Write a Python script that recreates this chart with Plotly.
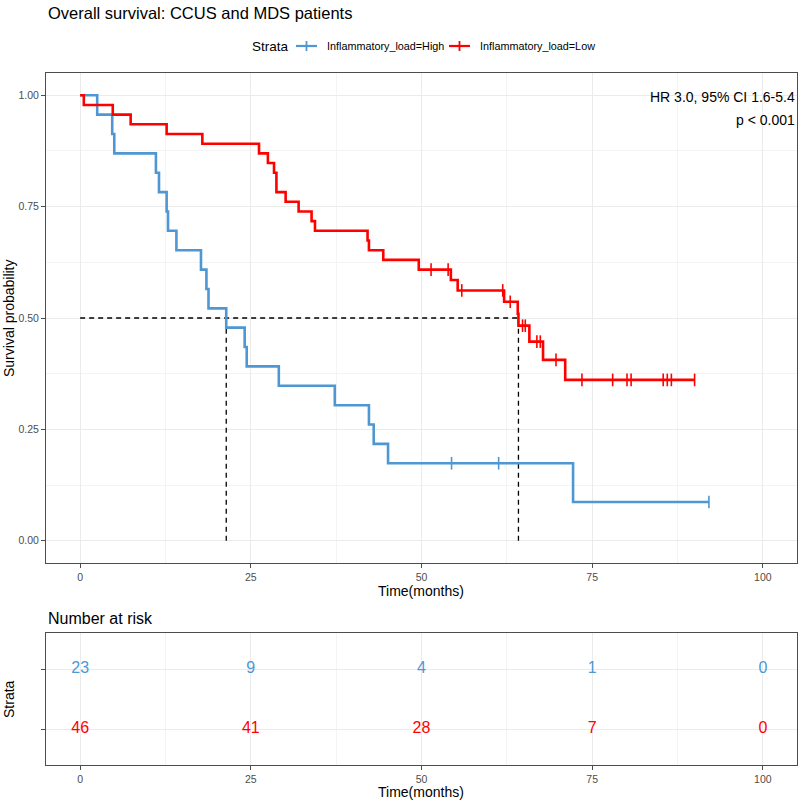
import numpy as np
import plotly.graph_objects as go

# ---------------- data ----------------
high_event_times = [2.5, 4.7, 5.0, 11.1, 11.55, 12.67, 12.87, 14.1, 17.7, 18.5, 18.8,
                    21.4, 24.1, 24.4, 29.1, 37.3, 42.3, 43.0, 45.1, 72.2]
high_surv = [0.9565, 0.9130, 0.8696, 0.8261, 0.7826, 0.7391, 0.6957, 0.6522, 0.6087,
             0.5652, 0.5217, 0.4783, 0.4348, 0.3913, 0.3478, 0.3043, 0.2609, 0.2174,
             0.1739, 0.0870]
high_censor = [54.4, 61.3, 92.1]

low_event_times = [0.54, 4.78, 7.4, 12.67, 17.9, 26.2, 27.5, 28.4, 28.75, 30.1, 32.0,
                   33.9, 34.4, 42.1, 42.3, 44.4, 49.6, 54.3, 55.3, 62.1, 64.1, 64.2,
                   65.8, 67.8, 71.05]
low_surv = [0.9783, 0.9565, 0.9348, 0.9130, 0.8913, 0.8696, 0.8478, 0.8261, 0.7826,
            0.7609, 0.7391, 0.7174, 0.6957, 0.6739, 0.6522, 0.6304, 0.6087, 0.5853,
            0.5619, 0.5364, 0.5096, 0.4828, 0.4470, 0.4060, 0.3610]
low_censor = [51.4, 53.9, 55.9, 61.9, 63.0, 64.8, 65.2, 66.9, 67.4, 69.7, 73.5,
              78.0, 80.1, 80.7, 85.4, 86.0, 86.6, 90.0]

strata_names = ["Inflammatory_load=High", "Inflammatory_load=Low"]
risk_times = [0, 25, 50, 75, 100]
risk_high = [23, 9, 4, 1, 0]
risk_low = [46, 41, 28, 7, 0]
x_ticks = [0, 25, 50, 75, 100]
y_ticks = [0.0, 0.25, 0.5, 0.75, 1.0]
y_ticklabels = ["0.00", "0.25", "0.50", "0.75", "1.00"]
hr_lines = ["HR 3.0, 95% CI 1.6-5.4", "p < 0.001"]

BLUE = "#4E97D3"
RED = "#FF0000"
FONT = "Liberation Sans, Arial, sans-serif"
GRID = "#EBEBEB"
MINOR = "#F4F4F4"
BORDER = "#4D4D4D"
TICKC = "#4D4D4D"

# plot-area geometry (pixels)
L, R, T, B = 46, 797, 73, 765
W, H = R - L, B - T


def PX(px):
    return (px - L) / W


def PY(py):
    return (B - py) / H


def step_xy(times, surv, end):
    xs = [0.0] + list(times) + [end]
    ys = [1.0] + list(surv) + [surv[-1]]
    return xs, ys


def surv_at(times, surv, t):
    idx = np.searchsorted(np.array(times), t, side="right")
    return 1.0 if idx == 0 else surv[idx - 1]


def median(times, surv):
    for t, s in zip(times, surv):
        if s <= 0.5:
            return t
    return None


fig = go.Figure()

groups = [
    (high_event_times, high_surv, high_censor, BLUE, strata_names[0]),
    (low_event_times, low_surv, low_censor, RED, strata_names[1]),
]

DASH = dict(color="black", width=1.3, dash="5px,4px")
meds = [median(t, s) for t, s, _, _, _ in groups]
fig.add_trace(go.Scatter(x=[0, max(meds)], y=[0.5, 0.5], mode="lines", line=DASH,
                         showlegend=False, hoverinfo="skip", xaxis="x", yaxis="y"))
for m in meds:
    fig.add_trace(go.Scatter(x=[m, m], y=[0, 0.5], mode="lines", line=DASH,
                             showlegend=False, hoverinfo="skip", xaxis="x", yaxis="y"))

for times, surv, cens, col, name in groups:
    end = max(max(cens), times[-1])
    xs, ys = step_xy(times, surv, end)
    fig.add_trace(go.Scatter(x=xs, y=ys, mode="lines", line=dict(color=col, width=2.6, shape="hv"),
                             name=name, showlegend=False, xaxis="x", yaxis="y"))
    cy = [surv_at(times, surv, c) for c in cens]
    fig.add_trace(go.Scatter(x=cens, y=cy, mode="markers",
                             marker=dict(symbol="line-ns", size=9, line=dict(color=col, width=1.6)),
                             showlegend=False, xaxis="x", yaxis="y"))

# risk table
for row, (vals, col) in enumerate([(risk_high, BLUE), (risk_low, RED)], start=1):
    fig.add_trace(go.Scatter(x=risk_times, y=[row] * len(risk_times), mode="text",
                             text=[str(v) for v in vals],
                             textfont=dict(color=col, size=16, family=FONT),
                             showlegend=False, xaxis="x2", yaxis="y2"))

axis_common = dict(
    showline=True, linecolor=BORDER, linewidth=1, mirror=True,
    ticks="outside", ticklen=4, tickcolor=TICKC, tickwidth=1,
    tickfont=dict(size=10.5, color=TICKC, family=FONT),
    showgrid=True, gridcolor=GRID, gridwidth=1, zeroline=False,
)

main_bottom = PY(563)
table_top = PY(633)

fig.update_layout(
    width=800, height=800,
    margin=dict(l=L, r=800 - R, t=T, b=800 - B),
    paper_bgcolor="white", plot_bgcolor="white",
    font=dict(family=FONT, color="black"),
    showlegend=False,
    xaxis=dict(domain=[0, 1], anchor="y", range=[-5, 105], tickvals=x_ticks,
               minor=dict(dtick=12.5, tick0=0, showgrid=True, gridcolor=MINOR, gridwidth=0.6, ticks=""),
               **axis_common),
    yaxis=dict(domain=[main_bottom, 1], anchor="x", range=[-0.05, 1.05], tickvals=y_ticks,
               ticktext=y_ticklabels,
               minor=dict(dtick=0.125, tick0=0, showgrid=True, gridcolor=MINOR, gridwidth=0.6, ticks=""),
               **axis_common),
    xaxis2=dict(domain=[0, 1], anchor="y2", range=[-5, 105], tickvals=x_ticks,
                minor=dict(dtick=12.5, tick0=0, showgrid=True, gridcolor=MINOR, gridwidth=0.6, ticks=""),
                **axis_common),
    yaxis2=dict(domain=[0, table_top], anchor="x2", range=[2.6, 0.4], tickvals=[1, 2],
                ticktext=["", ""], **axis_common),
)

# ---- legend drawn at the top (key glyphs + labels) ----
LEG_Y = 46
shapes = []
leg_items = [(BLUE, strata_names[0], 296, 325), (RED, strata_names[1], 449, 478)]
for col, _, sx, _ in leg_items:
    shapes.append(dict(type="line", xref="paper", yref="paper", x0=PX(sx), x1=PX(sx + 21),
                       y0=PY(LEG_Y), y1=PY(LEG_Y), line=dict(color=col, width=2.2)))
    shapes.append(dict(type="line", xref="paper", yref="paper", x0=PX(sx + 10.5), x1=PX(sx + 10.5),
                       y0=PY(LEG_Y - 5), y1=PY(LEG_Y + 5), line=dict(color=col, width=1.8)))
fig.update_layout(shapes=shapes)

annotations = [
    dict(text="Overall survival: CCUS and MDS patients", xref="paper", yref="paper",
         x=0, y=PY(13), xanchor="left", yanchor="middle", showarrow=False,
         font=dict(size=16.5, family=FONT)),
    dict(text="Strata", xref="paper", yref="paper", x=PX(250), y=PY(LEG_Y),
         xanchor="left", yanchor="middle", showarrow=False, font=dict(size=13.5, family=FONT)),
    dict(text=hr_lines[0], xref="paper", yref="paper", x=PX(797), y=PY(97), xanchor="right",
         yanchor="middle", showarrow=False, font=dict(size=14, family=FONT)),
    dict(text=hr_lines[1], xref="paper", yref="paper", x=PX(797), y=PY(120), xanchor="right",
         yanchor="middle", showarrow=False, font=dict(size=14, family=FONT)),
    dict(text="Time(months)", xref="paper", yref="paper", x=PX(421),
         y=PY(591), xanchor="center", yanchor="middle", showarrow=False,
         font=dict(size=14, family=FONT)),
    dict(text="Survival probability", xref="paper", yref="paper", x=PX(9),
         y=PY(318), xanchor="center", yanchor="middle", textangle=-90,
         showarrow=False, font=dict(size=14, family=FONT)),
    dict(text="Number at risk", xref="paper", yref="paper", x=0, y=PY(618),
         xanchor="left", yanchor="middle", showarrow=False, font=dict(size=16, family=FONT)),
    dict(text="Time(months)", xref="paper", yref="paper", x=PX(421),
         y=PY(792), xanchor="center", yanchor="middle", showarrow=False,
         font=dict(size=14, family=FONT)),
    dict(text="Strata", xref="paper", yref="paper", x=PX(9), y=PY(699),
         xanchor="center", yanchor="middle", textangle=-90, showarrow=False,
         font=dict(size=14, family=FONT)),
]
for col, name, _, tx in leg_items:
    annotations.append(dict(text=name, xref="paper", yref="paper", x=PX(tx), y=PY(LEG_Y),
                            xanchor="left", yanchor="middle", showarrow=False,
                            font=dict(size=10.8, family=FONT)))
fig.update_layout(annotations=annotations)

fig.write_html("out.html", config={"displayModeBar": False},
               post_script="document.body.style.margin='0';")
